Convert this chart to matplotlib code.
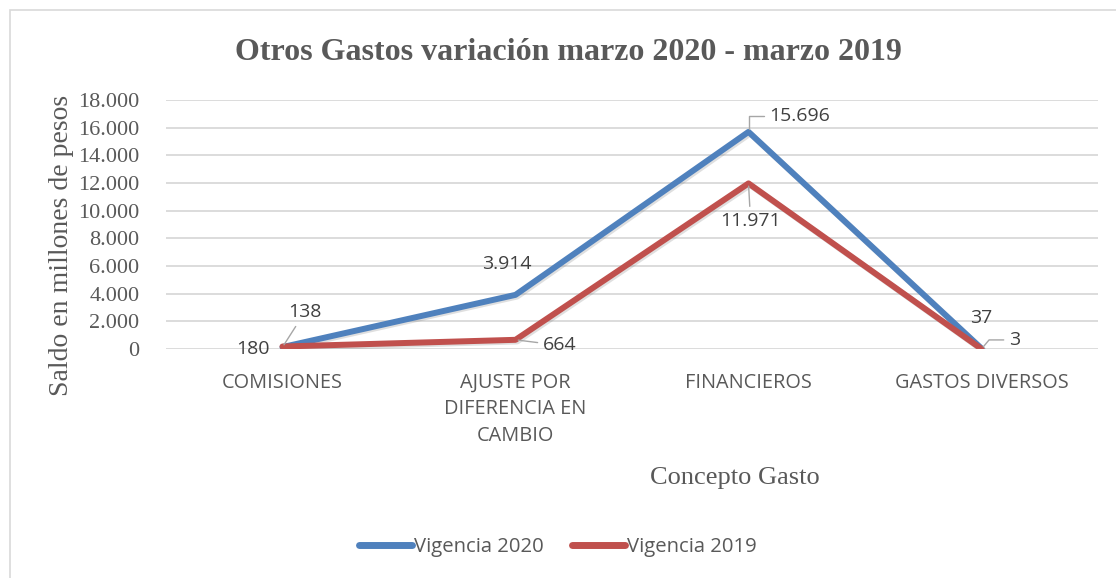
import matplotlib
matplotlib.use("Agg")
import matplotlib.pyplot as plt
import matplotlib.patheffects as pe
from matplotlib.patches import Rectangle

categories = ["COMISIONES", "AJUSTE POR\nDIFERENCIA EN\nCAMBIO", "FINANCIEROS", "GASTOS DIVERSOS"]
vig_2020 = [138, 3914, 15696, 37]
vig_2019 = [180, 664, 11971, 3]
yticks = [0, 2000, 4000, 6000, 8000, 10000, 12000, 14000, 16000, 18000]
ytick_labels = ["0", "2.000", "4.000", "6.000", "8.000", "10.000", "12.000", "14.000", "16.000", "18.000"]
labels_2020 = ["138", "3.914", "15.696", "37"]
labels_2019 = ["180", "664", "11.971", "3"]

W, H = 1116, 578
fig = plt.figure(figsize=(W / 100, H / 100), dpi=100)
fig.patch.set_facecolor("white")

# chart border
fig.patches.append(Rectangle((10 / W, -0.1), 1.2, (H - 10) / H + 0.1, transform=fig.transFigure,
                             fill=False, edgecolor="#D9D9D9", linewidth=1.2))

left, right = 166 / W, 1098 / W
bottom, top = 1 - 349 / H, 1 - 100 / H
ax = fig.add_axes([left, bottom, right - left, top - bottom])
x = list(range(len(categories)))
ax.set_xlim(-0.5, len(categories) - 0.5)
ax.set_ylim(0, 18000)

blue = "#4F81BD"
red = "#C0504D"
shadow = [pe.SimpleLineShadow(offset=(1.2, -1.2), shadow_color="#808080", alpha=0.25), pe.Normal()]
ax.plot(x, vig_2020, color=blue, lw=4.3, solid_joinstyle="round", solid_capstyle="round",
        path_effects=shadow, zorder=3, label="Vigencia 2020")
ax.plot(x, vig_2019, color=red, lw=4.3, solid_joinstyle="round", solid_capstyle="round",
        path_effects=shadow, zorder=3, label="Vigencia 2019")

ax.set_yticks(yticks)
ax.set_yticklabels(ytick_labels, family="Liberation Serif", fontsize=16, color="#595959")
ax.set_xticks(x)
ax.set_xticklabels(categories, family="Open Sans", fontsize=14.3, color="#595959", linespacing=1.45, va="top")
ax.tick_params(axis="both", length=0)
ax.tick_params(axis="y", pad=19)
ax.tick_params(axis="x", pad=17)
ax.grid(axis="y", color="#D9D9D9", lw=1.3)
ax.set_axisbelow(True)
for s in ax.spines.values():
    s.set_visible(False)

# data labels
lab_font = dict(family="Open Sans", fontsize=14, color="#404040")
leader = dict(color="#A6A6A6", lw=1)
# Vigencia 2020
ax.annotate(labels_2020[0], xy=(0, vig_2020[0]), xytext=(16, 25), textcoords="offset points",
            ha="center", va="center", **lab_font,
            arrowprops=dict(arrowstyle="-", **leader, shrinkA=2, shrinkB=2))
ax.annotate(labels_2020[1], xy=(1, vig_2020[1]), xytext=(-6, 22), textcoords="offset points",
            ha="center", va="center", **lab_font)
ax.annotate(labels_2020[2], xy=(2, vig_2020[2]), xytext=(37, 11.5), textcoords="offset points",
            ha="center", va="center", **lab_font,
            arrowprops=dict(arrowstyle="-", connectionstyle="angle,angleA=0,angleB=90,rad=0", **leader,
                            shrinkA=2, shrinkB=2))
ax.annotate(labels_2020[3], xy=(3, vig_2020[3]), xytext=(0, 22), textcoords="offset points",
            ha="center", va="center", **lab_font)
# Vigencia 2019
ax.annotate(labels_2019[0], xy=(0, vig_2019[0]), xytext=(-21, -1.5), textcoords="offset points",
            ha="center", va="center", **lab_font)
ax.annotate(labels_2019[1], xy=(1, vig_2019[1]), xytext=(32, -4), textcoords="offset points",
            ha="center", va="center", **lab_font,
            arrowprops=dict(arrowstyle="-", **leader, shrinkA=2, shrinkB=2))
ax.annotate(labels_2019[2], xy=(2, vig_2019[2]), xytext=(1.5, -27), textcoords="offset points",
            ha="center", va="center", **lab_font,
            arrowprops=dict(arrowstyle="-", **leader, shrinkA=2, shrinkB=2))
ax.annotate(labels_2019[3], xy=(3, vig_2019[3]), xytext=(24, 6.5), textcoords="offset points",
            ha="center", va="center", **lab_font,
            arrowprops=dict(arrowstyle="-", connectionstyle="angle,angleA=0,angleB=50,rad=0", **leader,
                            shrinkA=2, shrinkB=2))

fig.text(568 / W, 1 - 52 / H, "Otros Gastos variación marzo 2020 - marzo 2019", ha="center", va="center",
         family="Liberation Serif", fontweight="bold", fontsize=23, color="#595959")
fig.text(62 / W, 1 - 245 / H, "Saldo en millones de pesos", ha="center", va="center", rotation=90,
         family="Liberation Serif", fontsize=20, color="#595959")
fig.text(735 / W, 1 - 478 / H, "Concepto Gasto", ha="center", va="center",
         family="Liberation Serif", fontsize=19, color="#595959")

leg = fig.legend(loc="center", bbox_to_anchor=(558 / W, 1 - 547 / H), ncol=2, frameon=False,
                 prop=dict(family="Open Sans", size=14.6), handlelength=2.6, handletextpad=0.1,
                 columnspacing=1.4, labelcolor="#595959")
for h in leg.legend_handles:
    h.set_path_effects([])
    h.set_linewidth(5)

fig.savefig("out.png", dpi=100, facecolor="white")
